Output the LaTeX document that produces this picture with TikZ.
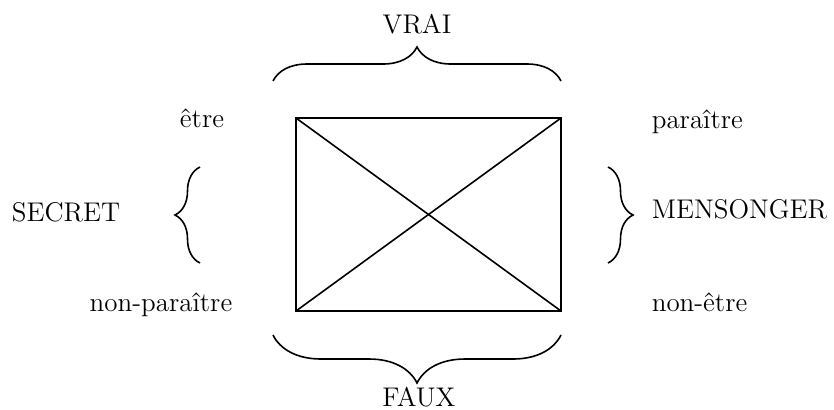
\documentclass[tikz,border=0pt]{standalone}
\usepackage{fontspec}
\usetikzlibrary{decorations.pathreplacing}

\begin{document}
\begin{tikzpicture}[x=0.5pt, y=-0.5pt, thick, lbl/.style = {font=\fontsize{13.5}{16}\selectfont, inner sep=0pt}, acc/.style = {decorate, decoration={brace, amplitude=#1}}]
        \useasboundingbox (0,0) rectangle (834,409);
        % carre semiotique
        \coordinate (nw) at (296,118);
        \coordinate (ne) at (561,118);
        \coordinate (se) at (561,311);
        \coordinate (sw) at (296,311);
        \draw (nw) -- (ne) -- (se) -- (sw) -- cycle;
        \draw (nw) -- (se);
        \draw (ne) -- (sw);
        % accolades
        \coordinate (vl) at (273,81);
        \coordinate (vr) at (561,81);
        \coordinate (fl) at (273,335);
        \coordinate (fr) at (561,335);
        \coordinate (sb) at (200,263);
        \coordinate (st) at (200,167);
        \coordinate (mt) at (608,167);
        \coordinate (mb) at (608,263);
        \draw[acc=17pt] (vl) -- (vr);
        \draw[acc=24pt] (fr) -- (fl);
        \draw[acc=12.5pt] (sb) -- (st);
        \draw[acc=12.5pt] (mt) -- (mb);
        % termes
        \node[lbl, anchor=base] (vrai) at (417,33) {VRAI};
        \node[lbl, anchor=base] (faux) at (419,406) {FAUX};
        \node[lbl, anchor=base] (etre) at (202,127) {être};
        \node[lbl, anchor=base west] (par) at (651,128) {paraître};
        \node[lbl, anchor=base] (secret) at (66,221) {SECRET};
        \node[lbl, anchor=base west] (mens) at (651,218) {MENSONGER};
        \node[lbl, anchor=base] (npar) at (161,311) {non-paraître};
        \node[lbl, anchor=base west] (netre) at (651,311) {non-être};
    \end{tikzpicture}
\end{document}
